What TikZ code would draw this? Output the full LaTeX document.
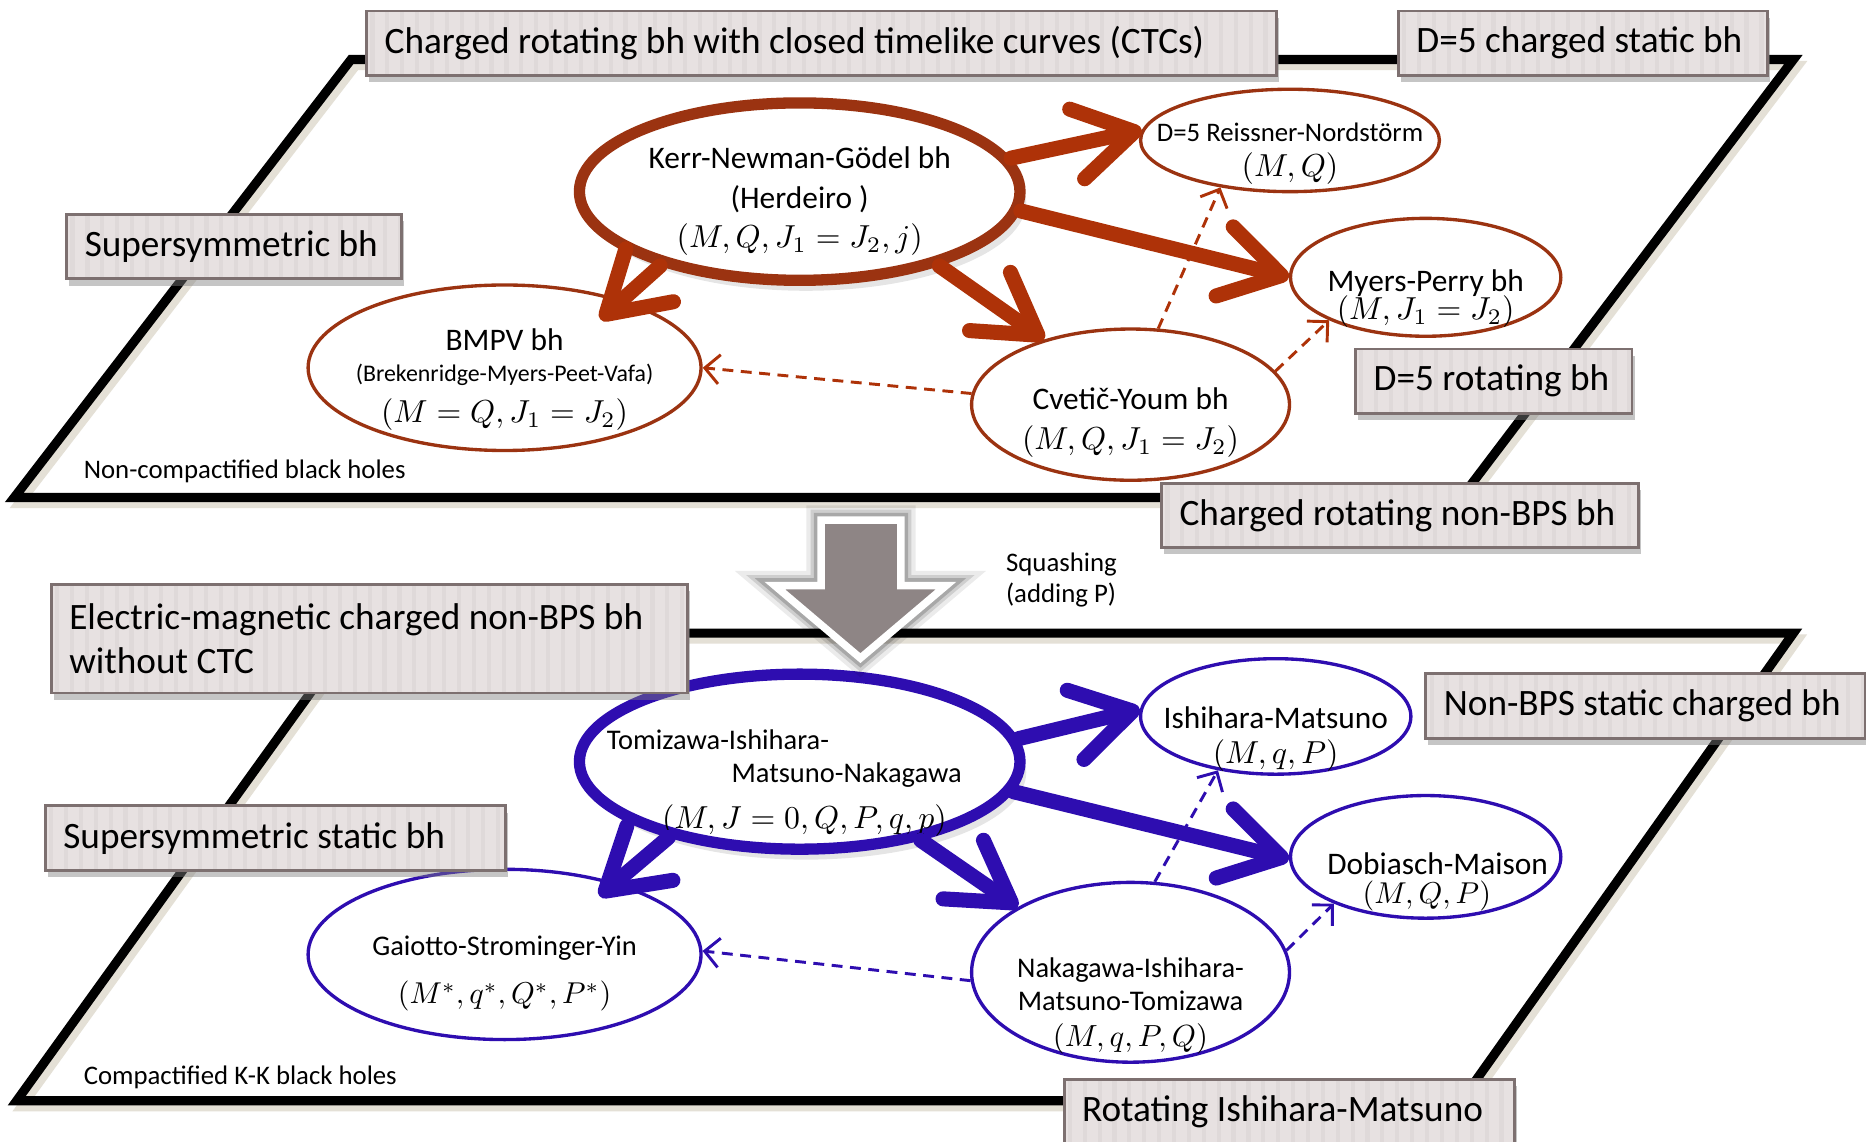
\RequirePackage{fix-cm}
\documentclass[tikz,border=0pt]{standalone}
\usepackage{fontspec}
\setmainfont{Carlito}
\usepackage{xcolor}
\usepackage{graphicx}
\usepackage{amsmath}
\usetikzlibrary{shapes.geometric,arrows.meta,positioning,shadows}
\definecolor{RustArrow}{HTML}{AE3208}
\definecolor{RustEdge}{HTML}{9B3311}
\definecolor{DeepIndigo}{HTML}{2E0DB0}
\definecolor{BoxFill}{HTML}{E7E1E1}
\definecolor{BoxStripe}{HTML}{DFD9D9}
\definecolor{BoxEdge}{HTML}{7D7070}
\definecolor{PlaneShade}{HTML}{E4E0D6}
\definecolor{SquashGray}{HTML}{8E8585}
% parameters: 10pt maths scaled down
\newcommand{\mth}[2][0.76]{\scalebox{#1}{\fontsize{10}{12}\selectfont$#2$}}
\tikzset{
  % Base ellipse
  EL/.style={ellipse,inner sep=0pt,fill=white},
  % Text set inside the ellipses
  ET/.style={align=flush center,text=black,font=\fontsize{7.5}{9.4}\selectfont},
  ETs/.style={ET,font=\fontsize{6.8}{8.5}\selectfont},
  % Colour variants
  eR/.style={EL,draw=RustEdge,line width=0.8pt},
  eRB/.style={EL,draw=RustEdge,line width=2.7pt,
              drop shadow={shadow xshift=1.5pt,shadow yshift=-2.5pt,opacity=0.2}},
  eB/.style={EL,draw=DeepIndigo,line width=0.8pt},
  eBB/.style={EL,draw=DeepIndigo,line width=2.7pt,
              drop shadow={shadow xshift=1.5pt,shadow yshift=-2.5pt,opacity=0.2}},
  % Arrows
  arrR/.style={-{Straight Barb[length=14pt,width=17pt,round]},line width=3.6pt,
               line cap=round,draw=RustArrow},
  arrB/.style={arrR,draw=DeepIndigo},
  dR/.style={-{Straight Barb[length=3.5pt,width=7pt]},line width=0.7pt,
             dash pattern=on 2.6pt off 1.8pt,draw=RustArrow},
  dB/.style={dR,draw=DeepIndigo},
  % Grey label box
  TB/.style={rectangle,anchor=north west,fill=BoxFill,draw=BoxEdge,line width=0.7pt,
             inner xsep=0.15cm,inner ysep=0pt,minimum height=0.54cm,align=flush left,
             font=\fontsize{8.9}{10.6}\selectfont,
             drop shadow={shadow xshift=0.6pt,shadow yshift=-1.6pt,opacity=0.45},
             path picture={\foreach \xs in {0,...,62}
               \fill[BoxStripe] ([xshift=\xs*0.125cm+0.03cm]path picture bounding box.south west)
                 rectangle ++(0.035cm,2cm);}},
  % Planes and small text
  PL/.style={line width=2.2pt,line join=miter},
  SM/.style={align=flush left,font=\fontsize{6.4}{7.4}\selectfont},
  SQ/.style={fill=SquashGray,draw=white,line width=1.8pt,line join=miter}
}
\begin{document}
\begin{tikzpicture}[x=0.01cm,y=-0.01cm]
  \fill[white] (0,0) rectangle (1568,959);
  \useasboundingbox (0,0) rectangle (1568,959);

  % the two planes
  \draw[PL,PlaneShade,shift={(4,5)}] (295,50) -- (1507,50) -- (1228,418) -- (12,418) -- cycle;
  \draw[PL,PlaneShade,shift={(4,5)}] (297,532) -- (1507,532) -- (1228,925) -- (14,925) -- cycle;
  \draw[PL] (295,50) -- (1507,50) -- (1228,418) -- (12,418) -- cycle;
  \draw[PL] (297,532) -- (1507,532) -- (1228,925) -- (14,925) -- cycle;
  \node[SM,anchor=west] (noncomp) at (58,396) {Non-compactified black holes};
  \node[SM,anchor=west] (comp) at (58,905) {Compactified K-K black holes};

  % upper plane
  \node[eRB,minimum width=3.70cm,minimum height=1.49cm,
        label={[ET,yshift=-0.08cm]center:{Kerr-Newman-Gödel bh\\(Herdeiro )\\\mth{(M,Q,J_1=J_2,j)}}}] (kng) at (672,161) {};
  \node[eR,minimum width=2.51cm,minimum height=0.86cm,
        label={[ET,font=\fontsize{6.4}{8.2}\selectfont,yshift=-0.11cm]center:{D=5 Reissner-Nordstörm\\\mth{(M,Q)}}}] (rn) at (1084,118) {};
  \node[eR,minimum width=2.27cm,minimum height=0.99cm,
        label={[ET,yshift=-0.18cm]center:{Myers-Perry bh\\[-2.6pt]\mth{(M,J_1=J_2)}}}] (mp) at (1198,233) {};
  \node[eR,minimum width=3.30cm,minimum height=1.39cm,
        label={[ET,yshift=-0.10cm]center:{BMPV bh\\[-2pt]{\fontsize{5.7}{6.8}\selectfont(Brekenridge-Myers-Peet-Vafa)}\\[0.5pt]\mth{(M=Q,J_1=J_2)}}}] (bmpv) at (424,309) {};
  \node[eR,minimum width=2.67cm,minimum height=1.27cm,
        label={[ET,yshift=-0.15cm]center:{Cveti\v{c}-Youm bh\\[0.2pt]\mth{(M,Q,J_1=J_2)}}}] (cy) at (950,340) {};

  \draw[arrR] (kng.9)   -- (rn.176);
  \draw[arrR] (kng.-5)  -- (mp.180);
  \draw[arrR,shorten >=-7pt] (kng.208) -- (bmpv.30);
  \draw[arrR] (kng.332) -- (cy.143);
  \draw[dR] (cy.176) -- (bmpv.0);
  \draw[dR] (cy.70)  -- (rn.214);
  \draw[dR] (cy.13)  -- (mp.204);

  % lower plane
  \node[eBB,minimum width=3.70cm,minimum height=1.47cm,
        label={[ETs,yshift=-0.18cm,xshift=-0.13cm]center:{\makebox[2.98cm][l]{Tomizawa-Ishihara-}\\[-0.6pt]\makebox[2.98cm][r]{Matsuno-Nakagawa}\\[2.5pt]\hspace*{0.34cm}\mth{(M,J=0,Q,P,q,p)}}}] (timn) at (672,640) {};
  \node[eB,minimum width=2.27cm,minimum height=0.97cm,
        label={[ET,yshift=-0.19cm]center:{Ishihara-Matsuno\\[-0.9pt]\mth{(M,q,P)}}}] (im) at (1072,602) {};
  \node[eB,minimum width=2.27cm,minimum height=1.03cm,
        label={[ET,yshift=-0.21cm,xshift=0.1cm]center:{Dobiasch-Maison\\[-2.3pt]\mth[0.72]{(M,Q,P)}\hspace*{0.18cm}}}] (dm) at (1198,720) {};
  \node[eB,minimum width=3.30cm,minimum height=1.43cm,
        label={[ETs,yshift=-0.16cm]center:{Gaiotto-Strominger-Yin\\[3.2pt]\mth[0.72]{(M^*,q^*,Q^*,P^*)}}}] (gsy) at (424,802) {};
  \node[eB,minimum width=2.67cm,minimum height=1.51cm,
        label={[ETs,yshift=-0.28cm]center:{Nakagawa-Ishihara-\\[-0.6pt]Matsuno-Tomizawa\\\mth[0.73]{(M,q,P,Q)}}}] (nimt) at (950,817) {};

  \draw[arrB] (timn.6)   -- (im.177);
  \draw[arrB] (timn.352) -- (dm.181);
  \draw[arrB,shorten >=-5pt] (timn.210) -- (gsy.33);
  \draw[arrB] (timn.327) -- (nimt.150);
  \draw[dB] (nimt.183) -- (gsy.1);
  \draw[dB] (nimt.75)  -- (im.223);
  \draw[dB] (nimt.8)   -- (dm.207);

  % grey label boxes
  \node[TB,text width=7.34cm] (ctc) at (307,8) {Charged rotating bh with closed timelike curves (CTCs)};
  \node[TB,text width=2.80cm] (dstat) at (1174,8) {D=5 charged static bh};
  \node[TB,text width=2.51cm] (susy) at (55,179) {Supersymmetric bh};
  \node[TB,text width=2.02cm] (drot) at (1138,292) {D=5 rotating bh};
  \node[TB,text width=3.70cm] (nonbps) at (975,405) {Charged rotating non-BPS bh};
  \node[TB,text width=5.04cm,minimum height=0.91cm] (emag) at (42,490) {Electric-magnetic charged non-BPS bh\\without CTC};
  \node[TB,text width=3.39cm] (nbstat) at (1197,565) {Non-BPS static charged bh};
  \node[TB,text width=3.56cm] (susyst) at (37,676) {Supersymmetric static bh};
  \node[TB,text width=3.48cm] (rotim) at (893,906) {Rotating Ishihara-Matsuno};

  % squashing arrow with a dark glow
  \foreach \w/\op in {7/0.08,5/0.12,3.5/0.18}
    \draw[line width=\w pt,black,opacity=\op,line join=miter]
      (690,437) -- (757,437) -- (757,492) -- (795,492) -- (723,553) -- (651,492) -- (690,492) -- cycle;
  \draw[SQ] (690,437) -- (757,437) -- (757,492) -- (795,492) -- (723,553) -- (651,492) -- (690,492) -- cycle;
  \node[SM,anchor=west] (squash) at (833,487) {Squashing\\(adding P)};
\end{tikzpicture}
\end{document}
